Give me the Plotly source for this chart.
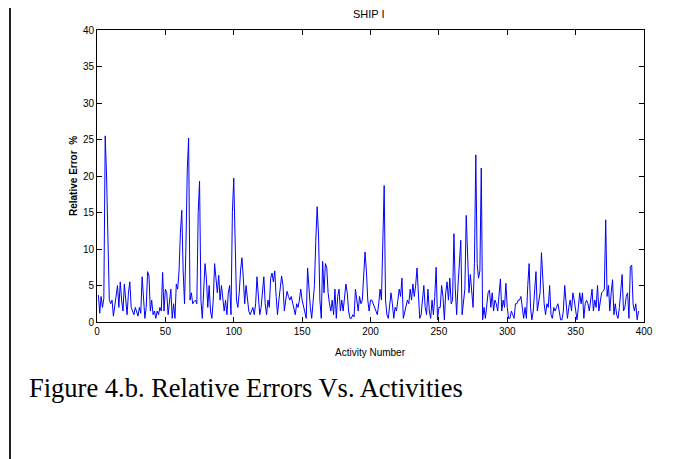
import plotly.graph_objects as go

# Relative error (%) per activity (activities 1..396)
relative_error = [
    3.7, 1.2, 3.5, 2.0, 3.2, 25.5, 20.0, 8.5, 3.0, 2.5,
    3.0, 0.8, 2.5, 3.5, 5.0, 2.0, 5.5, 3.0, 1.5, 5.2,
    3.5, 1.0, 4.0, 5.5, 2.0, 1.5, 1.0, 2.0, 1.5, 0.8,
    2.0, 1.2, 6.2, 3.0, 0.5, 2.0, 6.9, 6.3, 1.5, 3.0,
    1.0, 1.5, 0.5, 1.5, 1.0, 2.0, 1.5, 6.8, 1.5, 4.5,
    4.0, 1.0, 3.0, 4.5, 0.5, 2.5, 0.5, 5.2, 4.5, 7.0,
    12.3, 15.3, 7.0, 2.5, 10.0, 20.8, 25.2, 3.0, 4.0, 2.5,
    2.8, 3.0, 2.5, 15.0, 19.3, 3.0, 0.5, 5.0, 8.0, 6.0,
    2.0, 5.0, 1.5, 0.5, 3.0, 8.0, 6.0, 4.0, 6.4, 3.0,
    5.0, 3.5, 1.5, 3.0, 1.0, 4.0, 5.0, 1.0, 15.0, 19.7,
    10.8, 3.0, 2.0, 4.0, 7.1, 8.8, 6.0, 2.5, 5.0, 3.0,
    1.5, 1.0, 1.5, 2.0, 1.0, 2.5, 6.2, 3.5, 1.0, 2.0,
    4.0, 6.2, 2.5, 1.0, 3.0, 2.0, 6.0, 6.7, 5.5, 7.0,
    3.5, 1.0, 3.0, 4.5, 6.3, 5.0, 1.5, 3.0, 4.2, 3.5,
    3.0, 3.5, 2.5, 2.0, 1.0, 2.5, 2.0, 3.0, 4.5, 3.0,
    2.0, 1.5, 0.5, 7.4, 4.0, 2.0, 0.5, 3.0, 5.0, 11.2,
    15.8, 11.9, 3.0, 0.5, 8.3, 4.0, 8.0, 7.5, 4.0, 2.5,
    1.5, 3.0, 1.0, 4.5, 0.5, 3.5, 4.5, 1.5, 3.0, 1.5,
    3.0, 5.2, 4.0, 1.5, 0.5, 0.5, 1.0, 0.7, 4.5, 3.0,
    1.5, 3.5, 2.5, 3.0, 6.0, 9.6, 7.0, 3.0, 1.5, 3.0,
    3.0, 2.5, 2.0, 1.5, 1.0, 2.5, 4.5, 3.0, 11.9, 18.7,
    3.0, 1.0, 0.5, 2.0, 4.0, 2.5, 0.5, 2.0, 1.5, 3.0,
    4.5, 3.5, 6.0, 0.5, 1.5, 2.0, 3.0, 2.5, 4.5, 3.0,
    5.2, 3.5, 5.0, 7.4, 4.0, 0.5, 1.0, 3.0, 5.0, 2.0,
    1.0, 4.5, 1.5, 0.5, 3.0, 1.0, 3.5, 7.5, 0.3, 2.0,
    2.0, 5.0, 3.5, 0.3, 4.0, 5.5, 3.0, 6.0, 2.5, 3.0,
    12.1, 4.5, 1.0, 5.0, 7.5, 11.2, 1.0, 3.0, 4.5, 14.6,
    10.0, 4.0, 6.5, 4.0, 2.0, 8.0, 22.9, 8.0, 6.0, 7.0,
    21.1, 0.3, 2.0, 0.5, 2.0, 4.0, 4.4, 2.0, 4.0, 1.5,
    3.0, 2.5, 1.5, 3.5, 5.9, 1.5, 3.0, 2.0, 5.3, 2.0,
    0.5, 0.5, 1.5, 1.0, 0.5, 2.5, 2.5, 3.0, 3.0, 3.5,
    2.0, 0.5, 2.0, 0.5, 5.0, 8.0, 2.0, 0.3, 1.5, 4.0,
    6.9, 1.5, 2.5, 4.0, 9.5, 6.0, 2.5, 1.0, 2.5, 2.0,
    5.0, 1.0, 0.5, 2.0, 1.5, 2.0, 2.5, 1.5, 0.3, 0.3,
    1.5, 5.0, 3.0, 0.5, 2.0, 3.0, 1.5, 4.0, 3.0, 1.5,
    0.3, 2.0, 4.0, 2.5, 4.0, 0.5, 2.5, 3.0, 2.5, 1.5,
    3.0, 4.5, 1.5, 3.0, 2.0, 5.0, 1.5, 3.0, 4.0, 4.2,
    4.5, 14.0, 3.5, 5.0, 1.5, 4.0, 5.8, 1.0, 2.5, 1.0,
    0.5, 2.0, 4.5, 6.5, 1.5, 2.0, 3.5, 4.0, 0.5, 7.6,
    7.8, 2.5, 1.5, 2.5, 0.3, 1.5,
]
activity = list(range(1, len(relative_error) + 1))

x_ticks = [0, 50, 100, 150, 200, 250, 300, 350, 400]
y_ticks = [0, 5, 10, 15, 20, 25, 30, 35, 40]

title_text = "SHIP I"
x_title = "Activity Number"
y_title = "Relative Error\u00a0\u00a0%"
caption = "Figure 4.b. Relative Errors Vs. Activities"

# page body has an 8px default margin; target plot box in page pixels: x 97..644, y 30..322
OFF = 8
W, H = 684 - OFF, 459 - OFF
X0, X1, Y0, Y1 = 97, 644, 30, 322
L, T = X0 - OFF, Y0 - OFF
R, B = W - (X1 - OFF), H - (Y1 - OFF)
PW, PH = X1 - X0, Y1 - Y0

def px(xp):
    return (xp - X0) / PW

def py(yp):
    return (Y1 - yp) / PH

axis_font = dict(family="Liberation Sans Narrow, Arial, Liberation Sans, sans-serif", size=10, color="#000")

fig = go.Figure()
fig.add_trace(go.Scatter(
    x=activity, y=relative_error, mode="lines",
    line=dict(color="#0000ff", width=1), hoverinfo="skip", showlegend=False,
))

common = dict(showgrid=False, zeroline=False, showline=True, linecolor="#000",
              linewidth=1, mirror="ticks", ticks="inside", ticklen=5,
              tickcolor="#000", tickwidth=1, tickfont=axis_font)
fig.update_xaxes(range=[0, 400], tickvals=x_ticks, ticktext=[str(v) for v in x_ticks], **common)
fig.update_yaxes(range=[0, 40], tickvals=y_ticks, ticktext=[str(v) for v in y_ticks], **common)

fig.update_layout(
    width=W, height=H, margin=dict(l=L, r=R, t=T, b=B, autoexpand=False),
    paper_bgcolor="#fff", plot_bgcolor="#fff",
    annotations=[
        dict(text=title_text, x=px(369), y=py(14), xref="paper", yref="paper",
             showarrow=False, font=dict(family=axis_font["family"], size=11, color="#000"),
             xanchor="center", yanchor="middle"),
        dict(text=x_title, x=px(370), y=py(352), xref="paper", yref="paper",
             showarrow=False, font=axis_font, xanchor="center", yanchor="middle"),
        dict(text="<b>" + y_title + "</b>", x=px(73), y=py(176), xref="paper", yref="paper",
             showarrow=False, textangle=-90,
             font=dict(family="Arial, Liberation Sans, sans-serif", size=10, color="#000"),
             xanchor="center", yanchor="middle"),
        dict(text=caption, x=px(27), y=py(388), xref="paper", yref="paper",
             showarrow=False, font=dict(family="Times New Roman, Liberation Serif, serif", size=26.5, color="#000"),
             xanchor="left", yanchor="middle"),
    ],
    shapes=[
        # document border on the left (as far left as the figure area allows)
        dict(type="line", xref="paper", yref="paper", x0=px(OFF + 2), x1=px(OFF + 2),
             y0=py(OFF), y1=py(H + OFF), line=dict(color="#222", width=2)),
    ],
)

fig.write_html("out.html")
